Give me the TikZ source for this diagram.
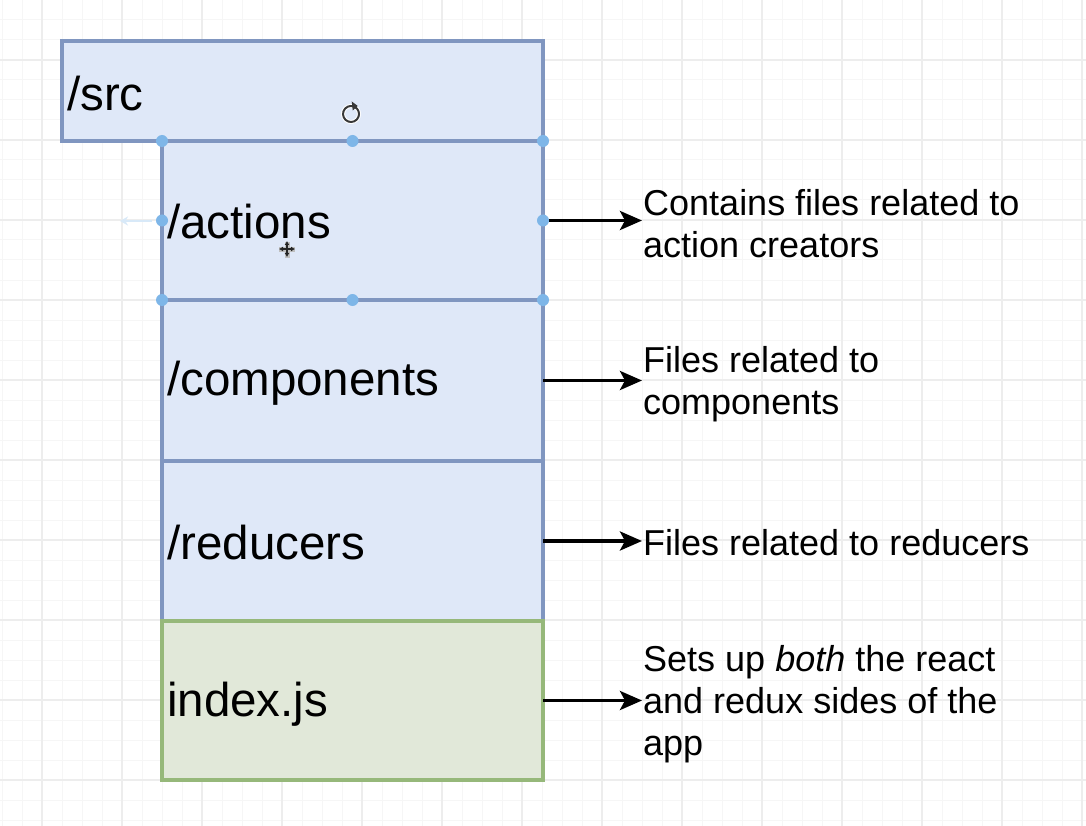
\documentclass[tikz,border=0pt]{standalone}
\usepackage{fontspec}
\setmainfont{Liberation Sans}
\usetikzlibrary{arrows.meta}
\definecolor{gridminor}{RGB}{246,246,246}
\definecolor{gridmajor}{RGB}{237,237,237}
\definecolor{bluefill}{RGB}{223,232,248}
\definecolor{bluedraw}{RGB}{128,150,192}
\definecolor{greenfill}{RGB}{225,232,217}
\definecolor{greendraw}{RGB}{150,184,122}
\definecolor{handle}{RGB}{126,182,232}
\tikzset{
  folder/.style={draw=bluedraw, fill=bluefill, line width=3.5pt, inner sep=0pt, outer sep=0pt, anchor=north west},
  entry/.style={draw=greendraw, fill=greenfill, line width=3.5pt, inner sep=0pt, outer sep=0pt, anchor=north west},
  label/.style={anchor=west, inner sep=0pt, font=\fontsize{47.5}{56}\selectfont},
  note/.style={anchor=west, inner sep=1pt, align=left, font=\fontsize{36}{42}\selectfont},
  link/.style={line width=3.6pt, -{Stealth[length=22pt, width=19pt, inset=5pt]}},
  grip/.style={circle, fill=handle, inner sep=0pt, minimum size=12pt}
}
\begin{document}
\begin{tikzpicture}[x=1pt, y=-1pt]
  \useasboundingbox (0,0) rectangle (1086,826);
  \fill[white] (0,0) rectangle (1086,826);
  % background grid
  \foreach \gx in {2,22,...,1086} \draw[gridminor, line width=1pt] (\gx,0) -- (\gx,826);
  \foreach \gy in {0,20,...,826} \draw[gridminor, line width=1pt] (0,\gy) -- (1086,\gy);
  \foreach \gx in {42,122,...,1086} \draw[gridmajor, line width=1.3pt] (\gx,0) -- (\gx,826);
  \foreach \gy in {60,140,...,826} \draw[gridmajor, line width=1.3pt] (0,\gy) -- (1086,\gy);

  % folder boxes
  \node[folder, minimum width=481pt, minimum height=100pt] (src) at (62,41) {};
  \node[folder, minimum width=381pt, minimum height=159pt] (actions) at (162,141) {};
  \node[folder, minimum width=381pt, minimum height=161pt] (components) at (162,300) {};
  \node[folder, minimum width=381pt, minimum height=160pt] (reducers) at (162,461) {};
  \node[entry, minimum width=381pt, minimum height=159pt] (index) at (162,621) {};

  % box labels
  \node[label] (srcl) at (67,94) {/src};
  \node[label] (actionsl) at (167,222) {/actions};
  \node[label] (componentsl) at (167,383) {/components};
  \node[label] (reducersl) at (167,543) {/reducers};
  \node[label] (indexl) at (167,704) {index.js};

  % descriptions
  \node[note] (n1) at (642,224) {Contains files related to\\action creators};
  \node[note] (n2) at (642,384) {Files related to\\components};
  \node[note] (n3) at (642,543) {Files related to reducers};
  \node[note] (n4) at (642,704) {Sets up \textit{both} the react\\and redux sides of the\\app};

  % connectors
  \draw[link] (actions.east) -- (n1.west |- actions.east);
  \draw[link] (components.east) -- (n2.west |- components.east);
  \draw[link] (reducers.east) -- (n3.west |- reducers.east);
  \draw[link] (index.east) -- (n4.west |- index.east);

  % selection handles on /actions
  \draw[handle!30, line width=2.5pt, -{Stealth[length=8pt, width=9pt]}] (152,221) -- (120,221);
  \foreach \a in {north west, north, north east, west, east, south west, south, south east}
    \node[grip] at (actions.\a) {};

  % rotate handle
  \coordinate (rot) at (351,114);
  \draw[white, line width=4pt] (rot) ++(70:8pt) arc[start angle=70, end angle=420, radius=8pt];
  \draw[black!78, line width=2pt] (rot) ++(70:8pt) arc[start angle=70, end angle=420, radius=8pt];
  \fill[black!78] (rot) ++(70:8pt) ++(-2,-5) -- ++(6,4.5) -- ++(-5,4.5) -- cycle;

  % move cursor
  \coordinate (mv) at (287,249);
  \draw[black!25, line width=5pt] (279,250) -- (295,250) (287,242) -- (287,258);
  \draw[black!85, line width=1.8pt, {Latex[length=4pt, width=5pt]}-{Latex[length=4pt, width=5pt]}] (279,249) -- (295,249);
  \draw[black!85, line width=1.8pt, {Latex[length=4pt, width=5pt]}-{Latex[length=4pt, width=5pt]}] (287,241) -- (287,257);
\end{tikzpicture}
\end{document}
